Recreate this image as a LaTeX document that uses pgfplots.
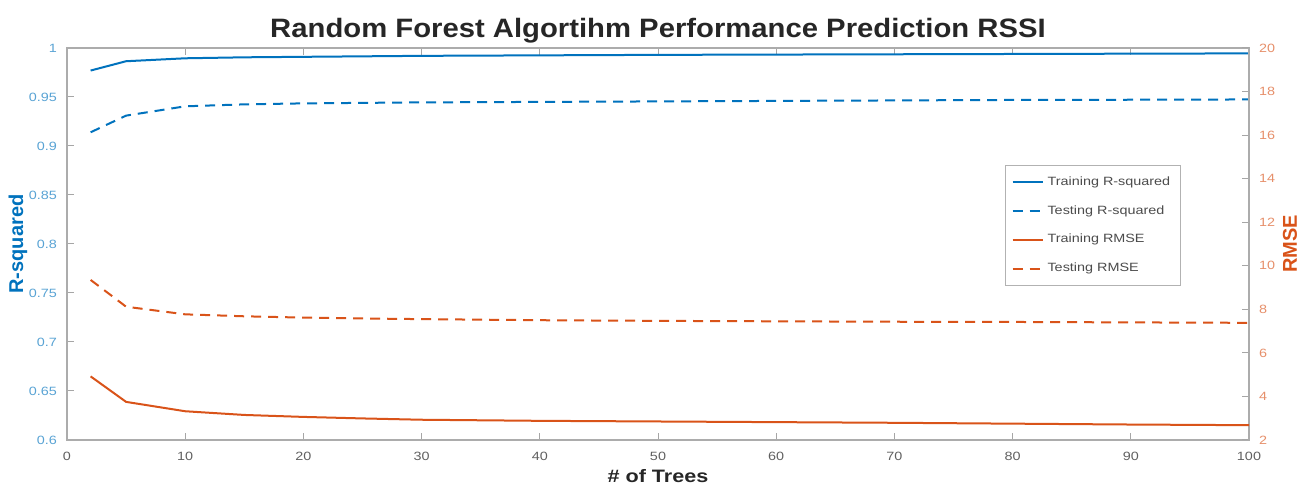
\documentclass[border=0pt]{standalone}
\usepackage{pgfplots}
\pgfplotsset{compat=1.18}
\usepackage{fontspec}
\setmainfont{Liberation Sans}[FakeStretch=1.2]
\newfontfamily\plainfont{Liberation Sans}
\newfontfamily\titlefont{Liberation Sans}[FakeStretch=1.1]
\definecolor{mblue}{rgb}{0,0.447,0.741}
\definecolor{morange}{rgb}{0.85,0.325,0.098}
\pgfplotstableread{
x   trr2    ter2    trrmse  termse
2   0.977   0.914   4.92    9.35
5   0.9865  0.931   3.75    8.12
10  0.9895  0.9405  3.32    7.77
15  0.9905  0.9425  3.15    7.68
20  0.9910  0.9435  3.06    7.62
25  0.9915  0.9440  2.99    7.58
30  0.9920  0.9445  2.93    7.55
40  0.9925  0.9450  2.88    7.50
50  0.9930  0.9455  2.85    7.47
60  0.9933  0.9460  2.82    7.45
70  0.9936  0.9465  2.79    7.43
80  0.9939  0.9470  2.75    7.42
90  0.9942  0.9472  2.71    7.40
100 0.9945  0.9475  2.68    7.38
}\data
\begin{document}
\begin{tikzpicture}
\pgfplotsset{
  common/.style={
    scale only axis, width=591pt, height=196pt,
    xmin=0, xmax=100,
    tick align=inside,
    major tick length=3.5pt,
    tick style={gray!70, line width=0.5pt},
    axis line style={gray!65, line width=0.6pt},
    /pgf/number format/assume math mode=true,
    tick label style={font=\fontsize{6}{7}\selectfont},
  }
}
\begin{axis}[common,
  ymin=0.6, ymax=1,
  xtick={0,10,20,30,40,50,60,70,80,90,100},
  ytick={0.6,0.65,0.7,0.75,0.8,0.85,0.9,0.95,1},
  yticklabels={0.6,0.65,0.7,0.75,0.8,0.85,0.9,0.95,1},
  xtick pos=both, ytick pos=left,
  x tick label style={gray!75!black},
  y tick label style={mblue!65},
  xticklabel shift=2.5pt,
  yticklabel shift=1.5pt,
  xlabel={\bfseries\# of Trees},
  xlabel style={at={(axis description cs:0.5,-0.0918)}, anchor=center, font=\fontsize{9}{10}\selectfont, black!85},
  ylabel={\plainfont\bfseries R-squared},
  ylabel style={at={(axis description cs:-0.0415,0.5)}, anchor=center, font=\fontsize{10}{11}\selectfont, mblue, rotate=0},
  title={\titlefont\bfseries Random Forest Algortihm Performance Prediction RSSI},
  title style={at={(axis description cs:0.5,1.013)}, anchor=center, font=\fontsize{13.3}{14}\selectfont, black!85},
]
\coordinate (bl) at (rel axis cs:0,0);
\coordinate (tr) at (rel axis cs:1,1);
\addplot[mblue, line width=1pt] table[x=x, y=trr2] {\data};
\addplot[mblue, line width=1pt, dash pattern=on 5pt off 3.5pt] table[x=x, y=ter2] {\data};
\end{axis}
\begin{axis}[common,
  ymin=2, ymax=20,
  axis x line=none,
  axis y line*=right,
  ytick={2,4,...,20},
  y tick label style={morange!65},
  yticklabel shift=1.5pt,
  ylabel={\plainfont\bfseries RMSE},
  ylabel style={at={(axis description cs:1.0347,0.5)}, anchor=center, font=\fontsize{10}{11}\selectfont, morange, rotate=0},
  legend style={at={(0.7936,0.7015)}, anchor=north west, draw=gray!60, line width=0.5pt,
    font=\fontsize{6}{7}\selectfont, text=black!70, row sep=4.6pt, inner xsep=3pt, inner ysep=3.5pt},
  legend cell align=left,
  legend image code/.code={\draw[#1] (0pt,0pt) -- (15pt,0pt);},
]
\addlegendimage{mblue, line width=1pt}
\addlegendentry{Training R-squared}
\addlegendimage{mblue, line width=1pt, dash pattern=on 5pt off 3.5pt}
\addlegendentry{Testing R-squared}
\addplot[morange, line width=1pt] table[x=x, y=trrmse] {\data};
\addlegendentry{Training RMSE}
\addplot[morange, line width=1pt, dash pattern=on 5pt off 3.5pt] table[x=x, y=termse] {\data};
\addlegendentry{Testing RMSE}
\end{axis}
\pgfresetboundingbox
\path[use as bounding box] ([shift={(-33.5pt,-23pt)}]bl) rectangle ([shift={(29.5pt,24pt)}]tr);
\end{tikzpicture}
\end{document}
